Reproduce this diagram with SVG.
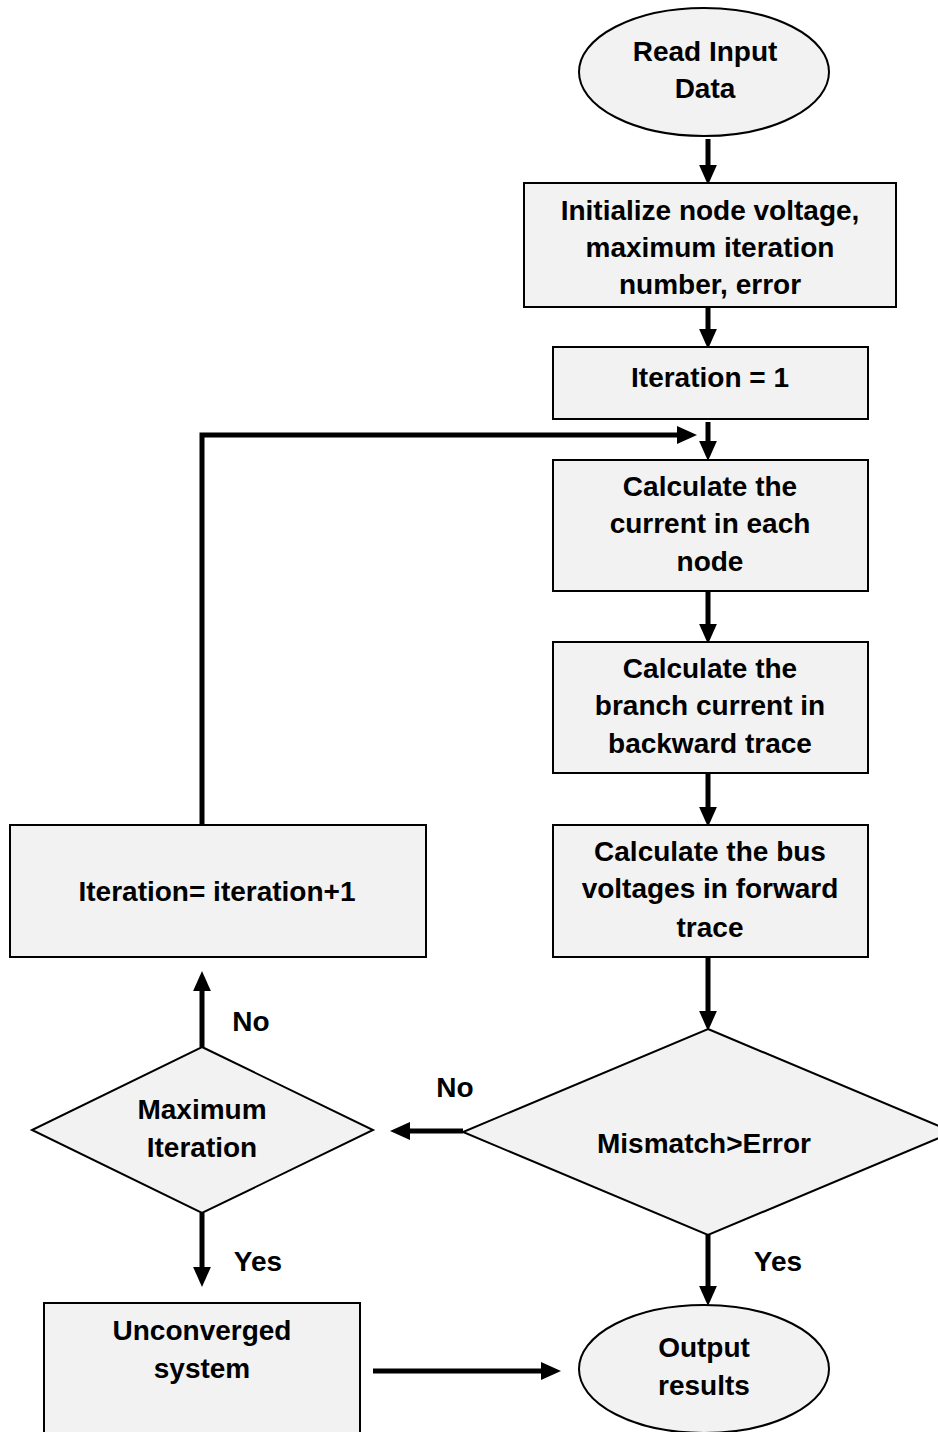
<svg xmlns="http://www.w3.org/2000/svg" width="938" height="1432" viewBox="0 0 938 1432">
<defs>
<style>
.shape{fill:#f2f2f2;stroke:#000;stroke-width:2}
.t{font-family:"Liberation Sans",Arial,sans-serif;font-weight:bold;font-size:28px;fill:#000;text-anchor:middle}
.c{fill:none;stroke:#000;stroke-width:5}
</style>
<marker id="ah" markerUnits="userSpaceOnUse" markerWidth="20" markerHeight="18" refX="0" refY="8" orient="auto" viewBox="0 0 18 16">
<path d="M0,0 L18,8 L0,16 z" fill="#000"/>
</marker>
</defs>
<rect width="938" height="1432" fill="#fff"/>

<g id="connectors">
<line class="c" x1="708" y1="139" x2="708" y2="165" marker-end="url(#ah)"/>
<line class="c" x1="708" y1="308" x2="708" y2="329" marker-end="url(#ah)"/>
<path class="c" d="M202,825 V435 H677" marker-end="url(#ah)"/>
<line class="c" x1="708" y1="422" x2="708" y2="441" marker-end="url(#ah)"/>
<line class="c" x1="708" y1="591" x2="708" y2="624" marker-end="url(#ah)"/>
<line class="c" x1="708" y1="773" x2="708" y2="807" marker-end="url(#ah)"/>
<line class="c" x1="708" y1="957" x2="708" y2="1011" marker-end="url(#ah)"/>
<line class="c" x1="463" y1="1131" x2="410" y2="1131" marker-end="url(#ah)"/>
<line class="c" x1="202" y1="1047" x2="202" y2="991" marker-end="url(#ah)"/>
<line class="c" x1="202" y1="1213" x2="202" y2="1267" marker-end="url(#ah)"/>
<line class="c" x1="373" y1="1371" x2="541" y2="1371" marker-end="url(#ah)"/>
<line class="c" x1="708" y1="1235" x2="708" y2="1286" marker-end="url(#ah)"/>
<text class="t" x="251" y="1031">No</text>
<text class="t" x="455" y="1097">No</text>
<text class="t" x="258" y="1271">Yes</text>
<text class="t" x="778" y="1271">Yes</text>
</g>

<g id="read-input">
<ellipse class="shape" cx="704" cy="72" rx="125" ry="64"/>
<text class="t" x="705" y="61">Read Input</text>
<text class="t" x="705" y="98">Data</text>
</g>

<g id="initialize">
<rect class="shape" x="524" y="183" width="372" height="124"/>
<text class="t" x="710" y="220">Initialize node voltage,</text>
<text class="t" x="710" y="257">maximum iteration</text>
<text class="t" x="710" y="294">number, error</text>
</g>

<g id="iteration-1">
<rect class="shape" x="553" y="347" width="315" height="72"/>
<text class="t" x="710" y="387">Iteration = 1</text>
</g>

<g id="calc-node-current">
<rect class="shape" x="553" y="460" width="315" height="131"/>
<text class="t" x="710" y="496">Calculate the</text>
<text class="t" x="710" y="533">current in each</text>
<text class="t" x="710" y="571">node</text>
</g>

<g id="calc-branch-current">
<rect class="shape" x="553" y="642" width="315" height="131"/>
<text class="t" x="710" y="678">Calculate the</text>
<text class="t" x="710" y="715">branch current in</text>
<text class="t" x="710" y="753">backward trace</text>
</g>

<g id="calc-bus-voltages">
<rect class="shape" x="553" y="825" width="315" height="132"/>
<text class="t" x="710" y="861">Calculate the bus</text>
<text class="t" x="710" y="898">voltages in forward</text>
<text class="t" x="710" y="937">trace</text>
</g>

<g id="iteration-increment">
<rect class="shape" x="10" y="825" width="416" height="132"/>
<text class="t" x="217" y="901">Iteration= iteration+1</text>
</g>

<g id="mismatch">
<polygon class="shape" points="708,1029 953,1132 708,1235 463,1132"/>
<text class="t" x="704" y="1153">Mismatch&gt;Error</text>
</g>

<g id="max-iteration">
<polygon class="shape" points="202,1047 373,1130 202,1213 32,1130"/>
<text class="t" x="202" y="1119">Maximum</text>
<text class="t" x="202" y="1157">Iteration</text>
</g>

<g id="unconverged">
<rect class="shape" x="44" y="1303" width="316" height="140"/>
<text class="t" x="202" y="1340">Unconverged</text>
<text class="t" x="202" y="1378">system</text>
</g>

<g id="output">
<ellipse class="shape" cx="704" cy="1369" rx="125" ry="64"/>
<text class="t" x="704" y="1357">Output</text>
<text class="t" x="704" y="1395">results</text>
</g>
</svg>
